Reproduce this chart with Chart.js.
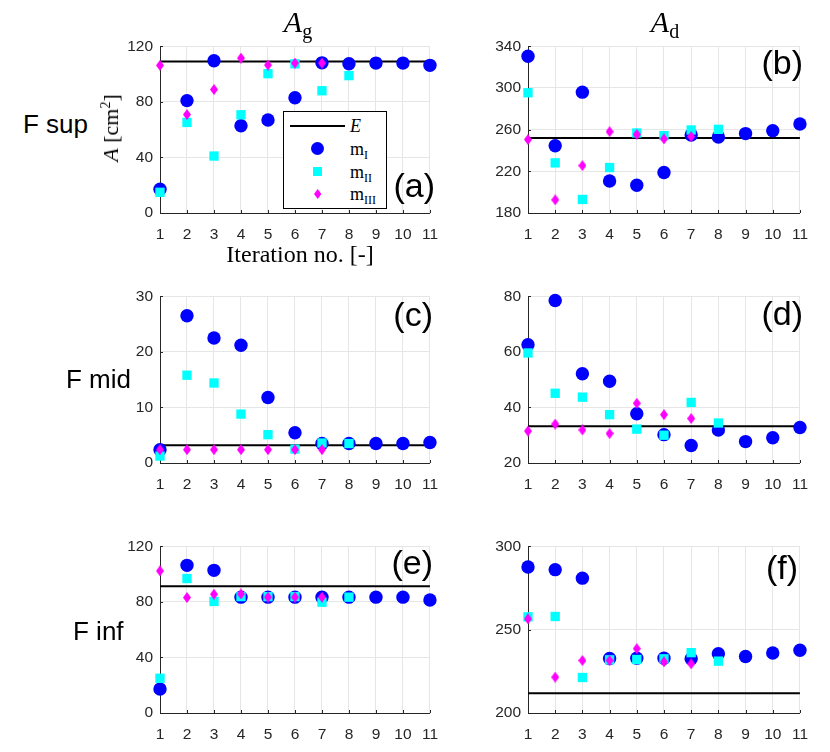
<!DOCTYPE html>
<html lang="en">
<head>
<meta charset="UTF-8">
<title>A per iteration</title>
<script src="https://cdn.jsdelivr.net/npm/chart.js"></script>
<style>
  body { margin: 0; background: #fff; }
  #page { position: relative; width: 830px; height: 752px; overflow: hidden;
          font-family: "Liberation Sans", Arial, sans-serif; color: #000; }
  .panel { position: absolute; width: 350px; height: 220px; }
  .tex { position: absolute; font-family: "Liberation Serif", "Times New Roman", serif; white-space: nowrap; }
  .row { position: absolute; font-size: 26px; line-height: 26px; white-space: nowrap; }
  .tag { position: absolute; font-size: 34px; line-height: 34px; white-space: nowrap; }
  .ttl { font-size: 30px; line-height: 30px; top: 7px; transform: translateX(-50%); }
  .ttl sub { font-style: normal; font-size: 20px; vertical-align: -6px; line-height: 0; }
  #legend { position: absolute; left: 283px; top: 111px; width: 102px; height: 96px;
            border: 1px solid #000; background: #fff; }
  .lg-txt { position: absolute; left: 66px; font-size: 18px; line-height: 18px; }
  .lg-txt sub { font-size: 12px; vertical-align: -4px; line-height: 0; }
</style>
</head>
<body>
<div id="page">
  <div class="panel" style="left:100px; top:30px"><canvas id="pa" width="350" height="220"></canvas></div>
  <div class="panel" style="left:470px; top:30px"><canvas id="pb" width="350" height="220"></canvas></div>
  <div class="panel" style="left:100px; top:280px"><canvas id="pc" width="350" height="220"></canvas></div>
  <div class="panel" style="left:470px; top:280px"><canvas id="pd" width="350" height="220"></canvas></div>
  <div class="panel" style="left:100px; top:530px"><canvas id="pe" width="350" height="220"></canvas></div>
  <div class="panel" style="left:470px; top:530px"><canvas id="pf" width="350" height="220"></canvas></div>

  <div class="tex ttl" style="left:298px"><i>A</i><sub>g</sub></div>
  <div class="tex ttl" style="left:665px"><i>A</i><sub>d</sub></div>

  <div class="row" style="left:23px; top:111px">F sup</div>
  <div class="row" style="left:66px; top:366px">F mid</div>
  <div class="row" style="left:73px; top:618px">F inf</div>

  <div class="tex" style="left:111px; top:128px; font-size:22px; line-height:22px; transform: translate(-50%,-50%) rotate(-90deg)"><i>A</i> [cm<sup style="font-size:14px; line-height:0">2</sup>]</div>
  <div class="tex" style="left:300px; top:242px; font-size:24px; line-height:24px; transform: translateX(-50%)">Iteration no. [-]</div>

  <div class="tag" style="right:395px; top:168px">(a)</div>
  <div class="tag" style="right:27px; top:45px">(b)</div>
  <div class="tag" style="right:397px; top:297px">(c)</div>
  <div class="tag" style="right:27px; top:296px">(d)</div>
  <div class="tag" style="right:397px; top:545px">(e)</div>
  <div class="tag" style="right:32px; top:550px">(f)</div>

  <div id="legend">
    <div style="position:absolute; left:6px; top:13px; width:55px; height:2px; background:#000"></div>
    <div class="tex lg-txt" style="top:5px"><i>E</i></div>
    <div style="position:absolute; left:27px; top:30px; width:13.4px; height:13.4px; border-radius:50%; background:#0000ff"></div>
    <div class="tex lg-txt" style="top:28px">m<sub>I</sub></div>
    <div style="position:absolute; left:29px; top:55px; width:9.3px; height:9.3px; background:#00ffff"></div>
    <div class="tex lg-txt" style="top:51px">m<sub>II</sub></div>
    <div style="position:absolute; left:30px; top:77px; width:7.4px; height:10px; background:#ff00ff;
                clip-path: polygon(50% 0, 100% 50%, 50% 100%, 0 50%)"></div>
    <div class="tex lg-txt" style="top:73px">m<sub>III</sub></div>
  </div>
</div>

<script>
// iteration numbers (x axis)
const iters = [1, 2, 3, 4, 5, 6, 7, 8, 9, 10, 11];

// (a) F sup, A_g
const supG_E = 109;
const supG_mI = [17.1, 80.9, 109.6, 62.8, 66.9, 83.0, 108.1, 107.4, 107.9, 107.9, 106.3];
const supG_mII = [14.9, 65.2, 41.0, 70.7, 100.3, 107.4, 88.0, 98.9];
const supG_mIII = [106.3, 70.9, 88.9, 111.5, 106.5, 107.9, 107.9];
const supG_ticks = [0, 40, 80, 120];

// (b) F sup, A_d
const supD_E = 252;
const supD_mI = [330.5, 244.5, 296.0, 210.7, 206.6, 218.9, 254.9, 253.0, 256.2, 259.0, 265.4];
const supD_mII = [295.4, 228.1, 193.0, 223.6, 256.8, 254.3, 259.7, 260.3];
const supD_mIII = [250.5, 192.6, 225.5, 258.1, 255.3, 251.1, 253.4];
const supD_ticks = [180, 220, 260, 300, 340];

// (c) F mid, A_g
const midG_E = 3.2;
const midG_mI = [2.4, 26.5, 22.5, 21.2, 11.8, 5.45, 3.5, 3.5, 3.5, 3.5, 3.7];
const midG_mII = [1.25, 15.8, 14.4, 8.8, 5.1, 2.5, 3.6, 3.5];
const midG_mIII = [2.4, 2.4, 2.4, 2.4, 2.4, 2.4, 2.4];
const midG_ticks = [0, 10, 20, 30];

// (d) F mid, A_d
const midD_E = 33.2;
const midD_mI = [62.6, 78.5, 52.1, 49.4, 37.7, 30.2, 26.3, 31.9, 27.7, 29.1, 32.8];
const midD_mII = [59.6, 45.1, 43.7, 37.4, 32.2, 30.0, 41.8, 34.4];
const midD_mIII = [31.5, 34.0, 31.9, 30.6, 41.5, 37.4, 36.0];
const midD_ticks = [20, 40, 60, 80];

// (e) F inf, A_g
const infG_E = 91.2;
const infG_mI = [17.2, 106.3, 102.7, 83.4, 83.4, 83.4, 83.4, 83.4, 83.4, 83.4, 81.3];
const infG_mII = [25.0, 96.8, 80.3, 83.8, 83.8, 83.8, 79.8, 83.4];
const infG_mIII = [102.3, 83.1, 85.5, 85.7, 83.4, 83.4, 83.4];
const infG_ticks = [0, 40, 80, 120];

// (f) F inf, A_d
const infD_E = 211.8;
const infD_mI = [287.6, 286.0, 280.9, 232.7, 232.9, 232.9, 232.5, 235.6, 233.9, 236.0, 237.6];
const infD_mII = [257.7, 257.9, 221.3, 231.9, 232.1, 232.5, 236.2, 231.1];
const infD_mIII = [256.5, 221.5, 231.5, 231.5, 238.6, 230.7, 229.5];
const infD_ticks = [200, 250, 300];

const tickFont = { family: '"Liberation Sans", Arial, sans-serif', size: 15.5 };
const axisColor = '#262626';
const gridColor = '#e6e6e6';

// matlab-like diamond, a bit taller than wide
function makeDiamond(w, h, color) {
    const c = document.createElement('canvas');
    c.width = w; c.height = h;
    const g = c.getContext('2d');
    g.fillStyle = color;
    g.beginPath();
    g.moveTo(w / 2, 0); g.lineTo(w, h / 2); g.lineTo(w / 2, h); g.lineTo(0, h / 2);
    g.closePath();
    g.fill();
    return c;
}
const diamond = makeDiamond(8, 11, '#ff00ff');

// ticks pointing into the axes
const inwardTicks = {
    id: 'inwardTicks',
    beforeDatasetsDraw(chart) {
        const { ctx, chartArea: a, scales: { x, y } } = chart;
        ctx.save();
        ctx.strokeStyle = axisColor;
        ctx.lineWidth = 1;
        ctx.beginPath();
        x.ticks.forEach(t => {
            const px = Math.round(x.getPixelForValue(t.value)) + 0.5;
            ctx.moveTo(px, a.bottom); ctx.lineTo(px, a.bottom - 3);
        });
        y.ticks.forEach(t => {
            const py = Math.round(y.getPixelForValue(t.value)) + 0.5;
            ctx.moveTo(a.left, py); ctx.lineTo(a.left + 3, py);
        });
        ctx.stroke();
        ctx.restore();
    }
};

const pts = arr => arr.map((v, i) => ({ x: iters[i], y: v }));

function drawPanel(id, E, mI, mII, mIII, yTicks, yWidth, padRight) {
    new Chart(document.getElementById(id), {
        type: 'scatter',
        data: {
            datasets: [
                { type: 'line', label: 'E', data: [{ x: iters[0], y: E }, { x: iters[iters.length - 1], y: E }],
                  borderColor: '#000', borderWidth: 2, pointRadius: 0, order: 4 },
                { label: 'mI', data: pts(mI), pointStyle: 'circle', pointRadius: 6.7,
                  backgroundColor: '#0000ff', borderWidth: 0, order: 3, clip: false },
                { label: 'mII', data: pts(mII), pointStyle: 'rect', pointRadius: 6.6,
                  backgroundColor: '#00ffff', borderWidth: 0, order: 2, clip: false },
                { label: 'mIII', data: pts(mIII), pointStyle: diamond, pointRadius: 5,
                  backgroundColor: '#ff00ff', borderWidth: 0, order: 1, clip: false }
            ]
        },
        options: {
            responsive: false,
            animation: false,
            events: [],
            layout: { padding: { top: 14, right: padRight, left: 0, bottom: 0 } },
            plugins: { legend: { display: false }, tooltip: { enabled: false } },
            scales: {
                x: {
                    type: 'linear', min: iters[0], max: iters[iters.length - 1],
                    ticks: { stepSize: 1, autoSkip: false, maxRotation: 0, color: axisColor, font: tickFont, padding: 12 },
                    grid: { color: gridColor, drawTicks: false },
                    border: { color: axisColor, width: 1 },
                    afterFit: s => { s.height = 37; }
                },
                y: {
                    min: yTicks[0], max: yTicks[yTicks.length - 1],
                    ticks: { stepSize: yTicks[1] - yTicks[0], color: axisColor, font: tickFont, padding: 7 },
                    grid: { color: gridColor, drawTicks: false },
                    border: { color: axisColor, width: 1 },
                    afterFit: s => { s.width = yWidth; }
                }
            }
        },
        plugins: [inwardTicks]
    });
}

drawPanel('pa', supG_E, supG_mI, supG_mII, supG_mIII, supG_ticks, 60, 10);
drawPanel('pb', supD_E, supD_mI, supD_mII, supD_mIII, supD_ticks, 58, 13);
drawPanel('pc', midG_E, midG_mI, midG_mII, midG_mIII, midG_ticks, 60, 10);
drawPanel('pd', midD_E, midD_mI, midD_mII, midD_mIII, midD_ticks, 58, 13);
drawPanel('pe', infG_E, infG_mI, infG_mII, infG_mIII, infG_ticks, 60, 10);
drawPanel('pf', infD_E, infD_mI, infD_mII, infD_mIII, infD_ticks, 58, 13);
</script>
</body>
</html>
